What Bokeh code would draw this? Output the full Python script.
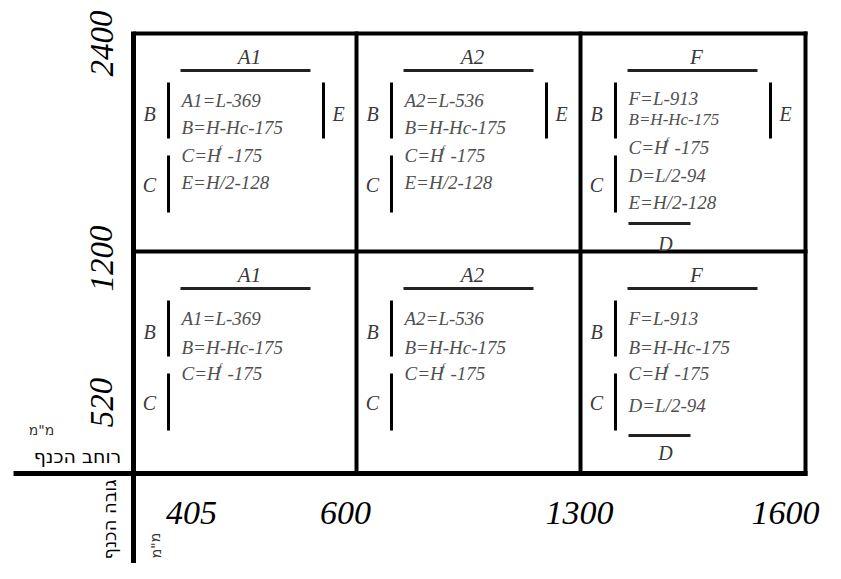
from bokeh.plotting import figure
from bokeh.models import Range1d
from bokeh.embed import file_html
from bokeh.resources import INLINE
from bokeh.core.properties import value

# ---------------- data ----------------
x_tick_labels = ["405", "600", "1300", "1600"]
y_tick_labels = ["2400", "1200", "520"]
col_titles = ["A1", "A2", "F"]
x_title = "רוחב הכנף"
y_title = "גובה הכנף"
unit = 'מ"מ'

# formulas per cell (row, col); "^f" marks the superscript f
top_formulas = [
    ["A1=L-369", "B=H-Hc-175", "C=H^f -175", "E=H/2-128"],
    ["A2=L-536", "B=H-Hc-175", "C=H^f -175", "E=H/2-128"],
    ["F=L-913", "B=H-Hc-175", "C=H^f -175", "D=L/2-94", "E=H/2-128"],
]
bottom_formulas = [
    ["A1=L-369", "B=H-Hc-175", "C=H^f -175"],
    ["A2=L-536", "B=H-Hc-175", "C=H^f -175"],
    ["F=L-913", "B=H-Hc-175", "C=H^f -175", "D=L/2-94"],
]
has_E = [[True, True, True], [False, False, False]]
has_D = [[False, False, True], [False, False, True]]

# ---------------- layout (pixels of the picture) ----------------
W, H = 825, 563
def Y(y):
    return H - y

col_left = [133, 356, 580]
col_right_edge = 805
row_top = [33, 251]
row_bottom = 473

FONT = value("Liberation Serif")
TXT = "#3a3a3a"
FCOL = "#505050"

p = figure(width=W, height=H, x_range=Range1d(0, W), y_range=Range1d(0, H),
           output_backend="svg", toolbar_location=None, min_border=0,
           x_axis_type=None, y_axis_type=None, outline_line_color=None,
           background_fill_color="white", border_fill_color="white")
p.xgrid.visible = False
p.ygrid.visible = False

# frame lines
for yy in row_top:
    p.segment(x0=[col_left[0]], y0=[Y(yy)], x1=[col_right_edge + 2], y1=[Y(yy)], line_width=4, line_color="black")
p.segment(x0=[13], y0=[Y(row_bottom)], x1=[col_right_edge + 2], y1=[Y(row_bottom)], line_width=5, line_color="black")
p.segment(x0=[col_left[0]], y0=[Y(row_top[0] - 2)], x1=[col_left[0]], y1=[Y(574)], line_width=5, line_color="black")
for xx in col_left[1:] + [col_right_edge]:
    p.segment(x0=[xx], y0=[Y(row_top[0] - 2)], x1=[xx], y1=[Y(row_bottom + 2)], line_width=4, line_color="black")

# per-cell formula line offsets
line_offsets = {
    (0, 0): [67, 94, 122, 149], (0, 1): [67, 94, 122, 149],
    (0, 2): [65, 86, 114, 142, 169],
    (1, 0): [67, 96, 122], (1, 1): [67, 96, 122], (1, 2): [67, 96, 122, 154],
}
d_line_off = [190, 184]
d_label_off = [210, 201]

for r, formulas_row in enumerate([top_formulas, bottom_formulas]):
    ry = row_top[r]
    for c in range(3):
        cx = col_left[c]
        # title + line
        p.text(x=[cx + 116], y=[Y(ry + 23)], text=[col_titles[c]], text_font=FONT, text_font_style="italic",
               text_font_size="21px", text_align="center", text_baseline="middle", text_color=TXT)
        p.segment(x0=[cx + 47], y0=[Y(ry + 37)], x1=[cx + 177], y1=[Y(ry + 37)], line_width=3, line_color="#222")
        # B and C bars
        p.segment(x0=[cx + 35, cx + 35], y0=[Y(ry + 49), Y(ry + 122)], x1=[cx + 35, cx + 35],
                  y1=[Y(ry + 105), Y(ry + 179)], line_width=3, line_color="black")
        p.text(x=[cx + 16, cx + 16], y=[Y(ry + 80), Y(ry + 151)], text=["B", "C"], text_font=FONT,
               text_font_style="italic", text_font_size="20px", text_align="center", text_baseline="middle",
               text_color=TXT)
        if has_E[r][c]:
            p.segment(x0=[cx + 190], y0=[Y(ry + 49)], x1=[cx + 190], y1=[Y(ry + 105)], line_width=3, line_color="black")
            p.text(x=[cx + 205], y=[Y(ry + 80)], text=["E"], text_font=FONT, text_font_style="italic",
                   text_font_size="20px", text_align="center", text_baseline="middle", text_color=TXT)
        if has_D[r][c]:
            p.segment(x0=[cx + 48], y0=[Y(ry + d_line_off[r])], x1=[cx + 110], y1=[Y(ry + d_line_off[r])],
                      line_width=3, line_color="#222")
            p.text(x=[cx + 85], y=[Y(ry + d_label_off[r])], text=["D"], text_font=FONT, text_font_style="italic",
                   text_font_size="20px", text_align="center", text_baseline="middle", text_color=TXT)
        offs = line_offsets[(r, c)]
        fx = cx + 48
        for i, f in enumerate(formulas_row[c]):
            yy = Y(ry + offs[i])
            fs = "19px"
            if (r, c) == (0, 2) and i == 1:
                fs = "17px"
            if "^f" in f:
                a, b = f.split("^f")
                p.text(x=[fx], y=[yy], text=[a], text_font=FONT, text_font_style="italic", text_font_size=fs,
                       text_align="left", text_baseline="middle", text_color=FCOL)
                p.text(x=[fx + 37], y=[yy + 7], text=["f"], text_font=FONT, text_font_style="italic",
                       text_font_size="11px", text_align="left", text_baseline="middle", text_color=FCOL)
                p.text(x=[fx + 46], y=[yy], text=[b.strip()], text_font=FONT, text_font_style="italic",
                       text_font_size=fs, text_align="left", text_baseline="middle", text_color=FCOL)
            else:
                p.text(x=[fx], y=[yy], text=[f], text_font=FONT, text_font_style="italic", text_font_size=fs,
                       text_align="left", text_baseline="middle", text_color=FCOL)

# x tick labels
xt_pos = [191, 345, 579, 785]
p.text(x=xt_pos, y=[Y(512)] * 4, text=x_tick_labels, text_font=FONT, text_font_style="italic",
       text_font_size="34px", text_align="center", text_baseline="middle", text_color="black")
# y tick labels (rotated)
yt_pos = [43, 258, 402]
p.text(x=[101] * 3, y=[Y(v) for v in yt_pos], text=y_tick_labels, angle=1.5708, text_font=FONT,
       text_font_style="italic", text_font_size="33px", text_align="center", text_baseline="middle",
       text_color="black")

# Hebrew axis titles
p.text(x=[77], y=[Y(455)], text=[x_title], text_font=value("DejaVu Sans"), text_font_size="19px",
       text_align="center", text_baseline="middle", text_color="black")
p.text(x=[41], y=[Y(429)], text=[unit], text_font=value("DejaVu Sans"), text_font_size="14px",
       text_align="center", text_baseline="middle", text_color="#333")
p.text(x=[109], y=[Y(519)], text=[y_title], angle=1.5708, text_font=value("DejaVu Sans"), text_font_size="18px",
       text_align="center", text_baseline="middle", text_color="black")
p.text(x=[155], y=[Y(545)], text=[unit], angle=1.5708, text_font=value("DejaVu Sans"), text_font_size="14px",
       text_align="center", text_baseline="middle", text_color="#333")

open("out.html", "w").write(file_html(p, INLINE))
